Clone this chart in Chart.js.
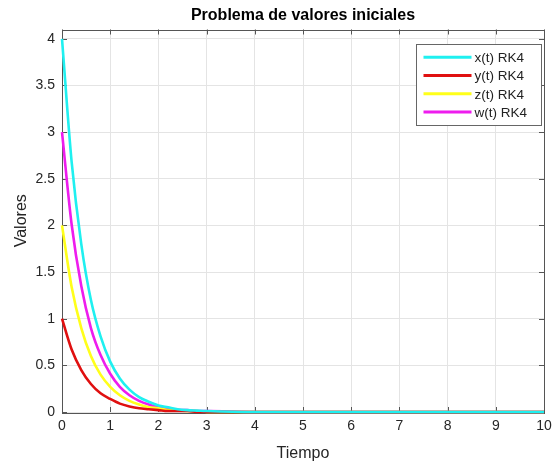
<!DOCTYPE html>
<html>
<head>
<meta charset="utf-8">
<script src="https://cdn.jsdelivr.net/npm/chart.js@4/dist/chart.umd.min.js"></script>
<style>
  html, body { margin: 0; padding: 0; background: #fff; }
  #wrap { width: 553px; height: 463px; }
</style>
</head>
<body>
<div id="wrap"><canvas id="myChart" width="553" height="463"></canvas></div>
<script>
// values (RK4 step ~0.2, flat after t=3)
const tiempo = [0, 0.2, 0.4, 0.6, 0.8, 1.0, 1.2, 1.4, 1.6, 1.8, 2.0, 2.2, 2.4, 2.6, 2.8, 3.0, 4, 5, 6, 7, 8, 9, 10];
const xVals = [4, 2.68, 1.80, 1.20, 0.81, 0.54, 0.36, 0.24, 0.16, 0.11, 0.07, 0.05, 0.03, 0.02, 0.015, 0.01, 0, 0, 0, 0, 0, 0, 0];
const yVals = [1, 0.67, 0.45, 0.30, 0.20, 0.14, 0.09, 0.06, 0.04, 0.03, 0.02, 0.01, 0.01, 0.01, 0, 0, 0, 0, 0, 0, 0, 0, 0];
const zVals = [2, 1.34, 0.90, 0.60, 0.40, 0.27, 0.18, 0.12, 0.08, 0.05, 0.04, 0.02, 0.02, 0.01, 0.01, 0, 0, 0, 0, 0, 0, 0, 0];
const wVals = [3, 2.01, 1.35, 0.90, 0.61, 0.41, 0.27, 0.18, 0.12, 0.08, 0.05, 0.04, 0.02, 0.02, 0.01, 0.01, 0, 0, 0, 0, 0, 0, 0];
const seriesNames = ['x(t) RK4', 'y(t) RK4', 'z(t) RK4', 'w(t) RK4'];
const seriesColors = ['#1ff0f0', '#e01010', '#ffff1a', '#ee1cee'];
const xTicks = [0, 1, 2, 3, 4, 5, 6, 7, 8, 9, 10];
const yTicks = [0, 0.5, 1, 1.5, 2, 2.5, 3, 3.5, 4];
const titulo = 'Problema de valores iniciales';

const FONT = "'Liberation Sans', Arial, sans-serif";
const toPts = vals => tiempo.map((t, i) => ({x: t, y: vals[i]}));

// title over the axes, box with inner ticks and legend like the matlab figure
const boxPlugin = {
  id: 'box',
  beforeDatasetsDraw(chart) {
    const {ctx, chartArea: a, scales} = chart;
    ctx.save();
    ctx.strokeStyle = '#555';
    ctx.lineWidth = 1;
    ctx.beginPath();
    xTicks.forEach(v => {
      const px = Math.round(scales.x.getPixelForValue(v)) + 0.5;
      ctx.moveTo(px, a.bottom); ctx.lineTo(px, a.bottom - 5);
      ctx.moveTo(px, a.top); ctx.lineTo(px, a.top + 5);
    });
    yTicks.forEach(v => {
      const py = Math.round(scales.y.getPixelForValue(v)) + 0.5;
      ctx.moveTo(a.left, py); ctx.lineTo(a.left + 5, py);
      ctx.moveTo(a.right, py); ctx.lineTo(a.right - 5, py);
    });
    ctx.stroke();
    ctx.strokeRect(Math.round(a.left) + 0.5, Math.round(a.top) + 0.5,
      Math.round(a.right - a.left), Math.round(a.bottom - a.top));
    ctx.restore();
  },
  afterDraw(chart) {
    const {ctx, chartArea: a} = chart;
    ctx.save();
    ctx.fillStyle = '#000';
    ctx.font = 'bold 16px ' + FONT;
    ctx.textAlign = 'center';
    ctx.textBaseline = 'middle';
    ctx.fillText(titulo, (a.left + a.right) / 2, 16);

    const w = 125, h = 81;
    const x0 = Math.round(a.right - 128) + 0.5, y0 = Math.round(a.top + 14) + 0.5;
    ctx.fillStyle = '#fff';
    ctx.fillRect(x0, y0, w, h);
    ctx.strokeStyle = '#666';
    ctx.lineWidth = 1;
    ctx.strokeRect(x0, y0, w, h);
    ctx.font = '13.5px ' + FONT;
    ctx.textAlign = 'left';
    ctx.fillStyle = '#222';
    seriesNames.forEach((name, i) => {
      const yy = y0 + 12.7 + i * 18.3;
      ctx.strokeStyle = seriesColors[i];
      ctx.lineWidth = 3;
      ctx.beginPath();
      ctx.moveTo(x0 + 7, yy); ctx.lineTo(x0 + 55, yy);
      ctx.stroke();
      ctx.fillText(name, x0 + 58, yy + 1);
    });
    ctx.restore();
  }
};

const ctx = document.getElementById('myChart');
const data = {
  datasets: seriesNames.map((name, i) => ({
    label: name,
    data: toPts([xVals, yVals, zVals, wVals][i]),
    borderColor: seriesColors[i],
    backgroundColor: seriesColors[i],
    borderWidth: 2.6,
    pointRadius: 0,
    cubicInterpolationMode: 'monotone',
    clip: 4
  }))
};
const config = {
  type: 'line',
  data: data,
  options: {
    responsive: false,
    animation: false,
    layout: { padding: { left: 0, right: 9, top: 29.5, bottom: 0 } },
    plugins: {
      legend: { display: false },
      tooltip: { enabled: false },
      title: { display: false }
    },
    scales: {
      x: {
        type: 'linear',
        min: 0,
        max: 10,
        afterBuildTicks: s => { s.ticks = xTicks.map(v => ({value: v})); },
        afterFit: s => { s.height = 51; s.paddingLeft = 0; s.paddingRight = 0; },
        grid: { color: '#e4e4e4', drawTicks: false },
        border: { display: false },
        ticks: { color: '#262626', padding: 6, font: { family: FONT, size: 14 }, callback: v => String(v) },
        title: {
          display: true, text: 'Tiempo', color: '#262626',
          font: { family: FONT, size: 16 }, padding: { top: 3.4, bottom: 0 }
        }
      },
      y: {
        type: 'linear',
        min: 0,
        max: 4.1,
        afterBuildTicks: s => { s.ticks = yTicks.map(v => ({value: v})); },
        afterFit: s => { s.width = 62; s.paddingTop = 0; s.paddingBottom = 0; },
        grid: { color: '#e4e4e4', drawTicks: false },
        border: { display: false },
        ticks: { color: '#262626', padding: 7, font: { family: FONT, size: 14 }, callback: v => String(v) },
        title: {
          display: true, text: 'Valores', color: '#262626',
          font: { family: FONT, size: 16 }, padding: { top: 12.4, bottom: 0 }
        }
      }
    }
  },
  plugins: [boxPlugin]
};
const myChart = new Chart(ctx, config);
</script>
</body>
</html>
